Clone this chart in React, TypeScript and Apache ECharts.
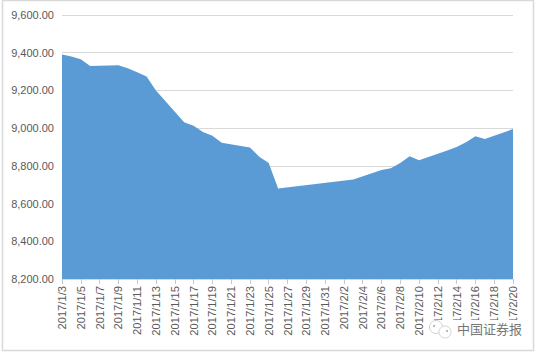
import React, { useEffect, useRef } from "react";
import * as echarts from "echarts";

const jan = Array.from({ length: 29 }, (_, i) => `2017/1/${i + 3}`);
const feb = Array.from({ length: 20 }, (_, i) => `2017/2/${i + 1}`);
const categories = [...jan, ...feb];

const observed: [string, number][] = [
  ["2017/1/3", 9391], ["2017/1/4", 9380], ["2017/1/5", 9365], ["2017/1/6", 9330],
  ["2017/1/9", 9333], ["2017/1/10", 9317], ["2017/1/11", 9297], ["2017/1/12", 9274],
  ["2017/1/13", 9200], ["2017/1/16", 9031], ["2017/1/17", 9013], ["2017/1/18", 8980],
  ["2017/1/19", 8960], ["2017/1/20", 8922], ["2017/1/23", 8897], ["2017/1/24", 8848],
  ["2017/1/25", 8815], ["2017/1/26", 8680], ["2017/2/3", 8727], ["2017/2/6", 8778],
  ["2017/2/7", 8787], ["2017/2/8", 8815], ["2017/2/9", 8851], ["2017/2/10", 8830],
  ["2017/2/13", 8882], ["2017/2/14", 8900], ["2017/2/15", 8925], ["2017/2/16", 8957],
  ["2017/2/17", 8943], ["2017/2/20", 8995],
];
const lookup = new Map(observed);
const values = categories.map((c) => lookup.get(c) ?? null);

const watermark = "中国证券报";

export default function App() {
  const ref = useRef<HTMLDivElement>(null);
  useEffect(() => {
    const chart = echarts.init(ref.current!, undefined, { renderer: "svg" });
    chart.setOption({
      animation: false,
      backgroundColor: "#fff",
      grid: { left: 62, right: 25, top: 15, bottom: 75 },
      xAxis: {
        type: "category",
        data: categories,
        boundaryGap: false,
        axisLine: { lineStyle: { color: "#d9d9d9", width: 1 } },
        axisTick: { show: true, interval: 1, length: 5, lineStyle: { color: "#c8c8c8" } },
        axisLabel: { rotate: 90, interval: 1, color: "#595959", fontSize: 11.2, margin: 7, fontFamily: "'Liberation Sans', sans-serif" },
        splitLine: { show: false },
      },
      yAxis: {
        type: "value",
        min: 8200,
        max: 9600,
        interval: 200,
        axisLine: { show: false },
        axisTick: { show: false },
        axisLabel: {
          color: "#595959",
          fontSize: 11,
          margin: 8,
          fontFamily: "'Liberation Sans', sans-serif",
          formatter: (v: number) => v.toLocaleString("en-US", { minimumFractionDigits: 2, maximumFractionDigits: 2 }),
        },
        splitLine: { lineStyle: { color: "#d9d9d9", width: 1 } },
      },
      series: [
        {
          type: "line",
          data: values,
          connectNulls: true,
          symbol: "none",
          lineStyle: { width: 0 },
          areaStyle: { color: "#5b9bd5", opacity: 1 },
          z: 3,
        },
      ],
      graphic: [
        { type: "rect", shape: { x: 2.5, y: 0.5, width: 531, height: 350 }, style: { fill: "none", stroke: "#d9d9d9", lineWidth: 1.5 }, silent: true, z: 0 },
        { type: "rect", shape: { x: 430, y: 320, width: 96, height: 20 }, style: { fill: "#ffffff" }, silent: true, z: 9 },
        { type: "circle", shape: { cx: 436, cy: 327, r: 6.5 }, style: { fill: "#ffffff", stroke: "#cfcfcf", lineWidth: 1 }, z: 10 },
        { type: "circle", shape: { cx: 445, cy: 332, r: 6 }, style: { fill: "#ffffff", stroke: "#d4d4d4", lineWidth: 1 }, z: 11 },
        { type: "circle", shape: { cx: 434, cy: 326, r: 1 }, style: { fill: "#a8a8a8" }, z: 12 },
        { type: "circle", shape: { cx: 447, cy: 331, r: 1 }, style: { fill: "#a8a8a8" }, z: 12 },
        { type: "text", x: 457, y: 322, style: { text: watermark, fill: "#777777", fontSize: 13, fontFamily: "'Noto Sans CJK SC', sans-serif" }, z: 12 },
      ],
    });
    return () => chart.dispose();
  }, []);
  return <div ref={ref} style={{ position: "absolute", left: 0, top: 0, width: 538, height: 354 }} />;
}
